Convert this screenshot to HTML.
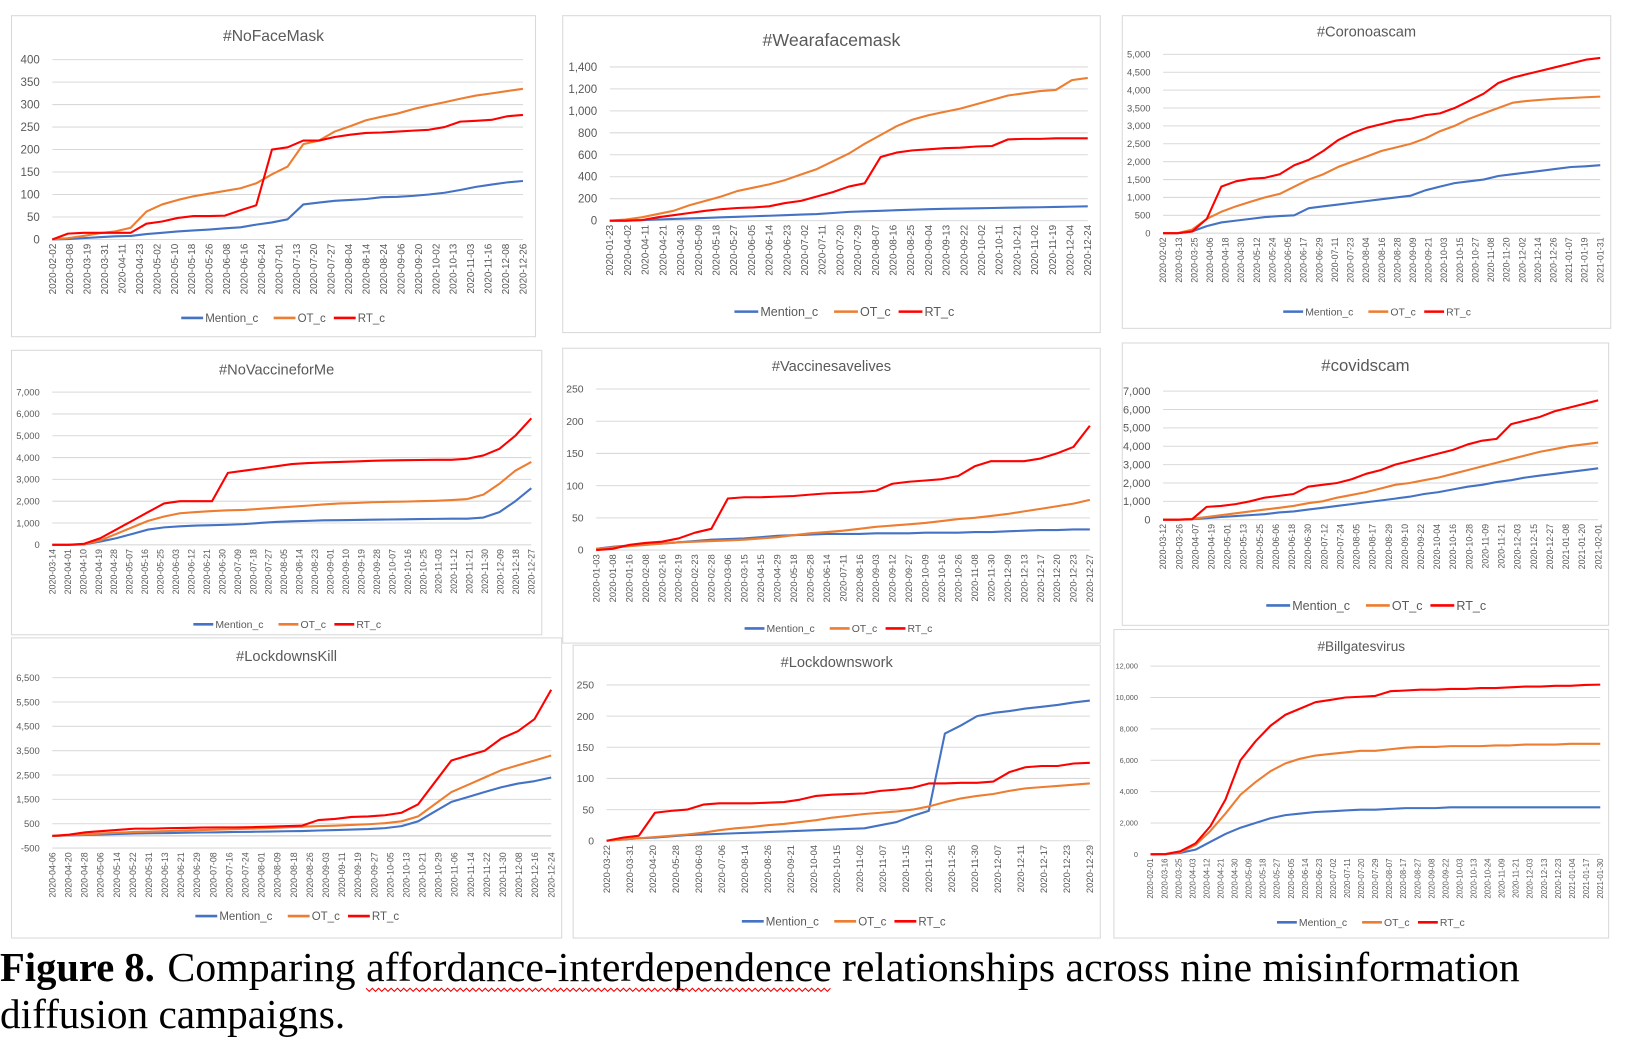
<!DOCTYPE html>
<html><head><meta charset="utf-8"><style>
html,body{margin:0;padding:0;background:#fff;width:1640px;height:1052px;overflow:hidden}
svg{display:block}
</style></head><body>
<svg id="fig" width="1640" height="1052" viewBox="0 0 1568 1006" preserveAspectRatio="none" xmlns="http://www.w3.org/2000/svg" font-family="'Liberation Sans', sans-serif">
<g id="charts"></g>
<g font-family="'Liberation Serif', serif" fill="#000">
<text y="938" font-size="39"><tspan x="0" font-weight="bold" textLength="148" lengthAdjust="spacingAndGlyphs">Figure 8.</tspan><tspan x="160" textLength="180" lengthAdjust="spacingAndGlyphs">Comparing</tspan><tspan x="350" textLength="445" lengthAdjust="spacingAndGlyphs">affordance-interdependence</tspan><tspan x="805" textLength="648" lengthAdjust="spacingAndGlyphs">relationships across nine misinformation</tspan></text>
<text x="0" y="983" font-size="39" textLength="330" lengthAdjust="spacingAndGlyphs">diffusion campaigns.</text>
<path id="squig" d="" fill="none" stroke="#e00" stroke-width="1"/>
</g>
</svg>
<script>
// ---- data arrays ----
const p1Titles = ["#NoFaceMask","#Wearafacemask","#Coronoascam","#NoVaccineforMe","#Vaccinesavelives","#covidscam","#LockdownsKill","#Lockdownswork","#Billgatesvirus"];
const seriesNames = ["Mention_c","OT_c","RT_c"];

const p1Dates = ["2020-02-02","2020-03-08","2020-03-19","2020-03-31","2020-04-11","2020-04-23","2020-05-02","2020-05-10","2020-05-18","2020-05-26","2020-06-08","2020-06-16","2020-06-24","2020-07-01","2020-07-13","2020-07-20","2020-07-27","2020-08-04","2020-08-14","2020-08-24","2020-09-06","2020-09-20","2020-10-02","2020-10-13","2020-11-03","2020-11-16","2020-12-08","2020-12-26"];
const p1Ticks = [0,50,100,150,200,250,300,350,400];
const p1Mention = [0,1,3,5,7,8,12,15,18,20,22,25,27,33,38,45,78,82,86,88,90,94,95,97,100,104,110,117,122,127,130];
const p1OT = [0,3,8,14,18,26,62,78,88,96,102,108,114,125,145,162,212,220,240,252,265,273,280,290,298,305,313,320,325,330,335];
const p1RT = [0,13,15,15,15,15,35,40,48,52,52,53,65,76,200,205,220,220,228,233,237,238,240,242,244,250,262,264,266,274,277];

const p2Dates = ["2020-01-23","2020-04-02","2020-04-11","2020-04-21","2020-04-30","2020-05-09","2020-05-18","2020-05-27","2020-06-05","2020-06-14","2020-06-23","2020-07-02","2020-07-11","2020-07-20","2020-07-29","2020-08-07","2020-08-16","2020-08-25","2020-09-04","2020-09-13","2020-09-22","2020-10-02","2020-10-11","2020-10-21","2020-11-02","2020-11-19","2020-12-04","2020-12-24"];
const p2Ticks = [0,200,400,600,800,1000,1200,1400];
const p2Mention = [0,0,5,10,15,20,25,30,35,40,45,50,55,60,70,80,85,90,95,100,105,108,110,112,115,118,120,122,125,128,130];
const p2OT = [0,10,30,60,90,140,180,220,270,300,330,370,420,470,540,610,700,780,860,920,960,990,1020,1060,1100,1140,1160,1180,1190,1280,1300];
const p2RT = [0,0,5,30,50,70,90,105,115,120,130,160,180,220,260,310,340,580,620,640,650,660,665,675,680,740,745,745,750,750,750];

const p3Dates = ["2020-02-02","2020-03-13","2020-03-25","2020-04-06","2020-04-18","2020-04-30","2020-05-12","2020-05-24","2020-06-05","2020-06-17","2020-06-29","2020-07-11","2020-07-23","2020-08-04","2020-08-16","2020-08-28","2020-09-09","2020-09-21","2020-10-03","2020-10-15","2020-10-27","2020-11-08","2020-11-20","2020-12-02","2020-12-14","2020-12-26","2021-01-07","2021-01-19","2021-01-31"];
const p3Ticks = [0,500,1000,1500,2000,2500,3000,3500,4000,4500,5000];
const p3Mention = [0,0,50,200,300,350,400,450,480,500,700,750,800,850,900,950,1000,1050,1200,1300,1400,1450,1500,1600,1650,1700,1750,1800,1850,1870,1900];
const p3OT = [0,0,100,400,600,750,880,1000,1100,1300,1500,1650,1850,2000,2150,2300,2400,2500,2650,2850,3000,3200,3350,3500,3650,3700,3730,3760,3780,3800,3820];
const p3RT = [0,0,50,400,1300,1450,1520,1550,1650,1900,2050,2300,2600,2800,2950,3050,3150,3200,3300,3350,3500,3700,3900,4200,4350,4450,4550,4650,4750,4850,4900];

const p4Dates = ["2020-03-14","2020-04-01","2020-04-10","2020-04-19","2020-04-28","2020-05-07","2020-05-16","2020-05-25","2020-06-03","2020-06-12","2020-06-21","2020-06-30","2020-07-09","2020-07-18","2020-07-27","2020-08-05","2020-08-14","2020-08-23","2020-09-01","2020-09-10","2020-09-19","2020-09-28","2020-10-07","2020-10-16","2020-10-25","2020-11-03","2020-11-12","2020-11-21","2020-11-30","2020-12-09","2020-12-18","2020-12-27"];
const p4Ticks = [0,1000,2000,3000,4000,5000,6000,7000];
const p4Mention = [0,0,20,150,300,500,700,800,850,880,900,920,950,1000,1050,1080,1100,1120,1130,1140,1150,1160,1170,1180,1190,1200,1200,1250,1500,2000,2600];
const p4OT = [0,0,30,200,500,800,1100,1300,1450,1500,1550,1580,1600,1650,1700,1750,1800,1850,1900,1920,1950,1970,1980,2000,2020,2050,2100,2300,2800,3400,3800];
const p4RT = [0,0,50,300,700,1100,1500,1900,2000,2000,2000,3300,3400,3500,3600,3700,3750,3780,3800,3820,3850,3870,3880,3890,3900,3900,3950,4100,4400,5000,5800];

const p5Dates = ["2020-01-03","2020-01-08","2020-01-16","2020-02-08","2020-02-16","2020-02-19","2020-02-23","2020-02-28","2020-03-06","2020-03-15","2020-04-15","2020-04-29","2020-05-18","2020-05-28","2020-06-14","2020-07-11","2020-08-16","2020-09-03","2020-09-12","2020-09-27","2020-10-09","2020-10-16","2020-10-26","2020-11-08","2020-11-30","2020-12-09","2020-12-13","2020-12-17","2020-12-20","2020-12-23","2020-12-27"];
const p5Ticks = [0,50,100,150,200,250];
const p5Mention = [2,5,7,9,10,12,14,16,17,18,20,22,23,24,25,25,25,26,26,26,27,27,27,28,28,29,30,31,31,32,32];
const p5OT = [2,4,6,8,10,12,13,14,15,16,18,20,23,26,28,30,33,36,38,40,42,45,48,50,53,56,60,64,68,72,78];
const p5RT = [0,2,8,11,13,18,27,33,80,82,82,83,84,86,88,89,90,92,103,106,108,110,115,130,138,138,138,142,150,160,193];

const p6Dates = ["2020-03-12","2020-03-26","2020-04-07","2020-04-19","2020-05-01","2020-05-13","2020-05-25","2020-06-06","2020-06-18","2020-06-30","2020-07-12","2020-07-24","2020-08-05","2020-08-17","2020-08-29","2020-09-10","2020-09-22","2020-10-04","2020-10-16","2020-10-28","2020-11-09","2020-11-21","2020-12-03","2020-12-15","2020-12-27","2021-01-08","2021-01-20","2021-02-01"];
const p6Ticks = [0,1000,2000,3000,4000,5000,6000,7000];
const p6Mention = [0,0,30,80,150,200,250,300,400,450,550,650,750,850,950,1050,1150,1250,1400,1500,1650,1800,1900,2050,2150,2300,2400,2500,2600,2700,2800];
const p6OT = [0,0,50,150,250,350,450,550,650,750,900,1000,1200,1350,1500,1700,1900,2000,2150,2300,2500,2700,2900,3100,3300,3500,3700,3850,4000,4100,4200];
const p6RT = [0,0,20,700,750,850,1000,1200,1300,1400,1800,1900,2000,2200,2500,2700,3000,3200,3400,3600,3800,4100,4300,4400,5200,5400,5600,5900,6100,6300,6500];

const p7Dates = ["2020-04-06","2020-04-20","2020-04-28","2020-05-06","2020-05-14","2020-05-22","2020-05-31","2020-06-13","2020-06-21","2020-06-29","2020-07-08","2020-07-16","2020-07-24","2020-08-01","2020-08-09","2020-08-18","2020-08-26","2020-09-03","2020-09-11","2020-09-19","2020-09-27","2020-10-05","2020-10-13","2020-10-21","2020-10-29","2020-11-06","2020-11-14","2020-11-22","2020-11-30","2020-12-08","2020-12-16","2020-12-24"];
const p7Ticks = [-500,500,1500,2500,3500,4500,5500,6500];
const p7Mention = [0,20,40,60,80,100,110,120,130,140,150,160,170,180,190,200,220,240,260,280,320,400,600,1000,1400,1600,1800,2000,2150,2250,2400];
const p7OT = [0,30,60,100,130,160,180,200,220,240,260,280,300,320,350,380,400,420,450,480,520,600,800,1300,1800,2100,2400,2700,2900,3100,3300];
const p7RT = [0,50,150,200,250,300,300,320,330,340,350,350,360,380,400,420,650,700,780,800,850,950,1300,2200,3100,3300,3500,4000,4300,4800,6000];

const p8Dates = ["2020-03-22","2020-03-31","2020-04-20","2020-05-28","2020-06-03","2020-07-06","2020-08-14","2020-08-26","2020-09-21","2020-10-04","2020-10-15","2020-11-02","2020-11-07","2020-11-15","2020-11-20","2020-11-25","2020-11-30","2020-12-07","2020-12-11","2020-12-17","2020-12-23","2020-12-29"];
const p8Ticks = [0,50,100,150,200,250];
const p8Mention = [0,2,4,5,7,9,10,11,12,13,14,15,16,17,18,19,20,25,30,40,48,172,185,200,205,208,212,215,218,222,225];
const p8OT = [0,2,4,6,8,10,13,17,20,22,25,27,30,33,37,40,43,45,47,50,55,62,68,72,75,80,84,86,88,90,92];
const p8RT = [0,5,8,45,48,50,58,60,60,60,61,62,66,72,74,75,76,80,82,85,92,92,93,93,95,110,118,120,120,124,125];

const p9Dates = ["2020-02-01","2020-03-16","2020-03-25","2020-04-03","2020-04-12","2020-04-21","2020-04-30","2020-05-09","2020-05-18","2020-05-27","2020-06-05","2020-06-14","2020-06-23","2020-07-02","2020-07-11","2020-07-20","2020-07-29","2020-08-07","2020-08-17","2020-08-27","2020-09-08","2020-09-22","2020-10-03","2020-10-13","2020-10-24","2020-11-09","2020-11-21","2020-12-03","2020-12-13","2020-12-23","2021-01-04","2021-01-17","2021-01-30"];
const p9Ticks = [0,2000,4000,6000,8000,10000,12000];
const p9Mention = [0,5,100,300,800,1300,1700,2000,2300,2500,2600,2700,2750,2800,2850,2850,2900,2950,2950,2950,3000,3000,3000,3000,3000,3000,3000,3000,3000,3000,3000];
const p9OT = [0,10,150,600,1500,2600,3800,4600,5300,5800,6100,6300,6400,6500,6600,6600,6700,6800,6850,6850,6900,6900,6900,6950,6950,7000,7000,7000,7050,7050,7050];
const p9RT = [0,20,200,700,1800,3500,6000,7200,8200,8900,9300,9700,9850,10000,10050,10100,10400,10450,10500,10500,10550,10550,10600,10600,10650,10700,10700,10750,10750,10800,10820];

// ---- layout (not data) ----
const layouts = [
 {box:[11,15,501,307],pl:50,pr:500,pt:57,pb:229,title:34,tfs:15,yfs:11,xfs:9.5,leg:304,lfs:11},
 {box:[538,15,514,303],pl:583,pr:1040,pt:64,pb:211,title:38,tfs:17,yfs:11,xfs:9.5,leg:298,lfs:12},
 {box:[1073,15,467,299],pl:1112,pr:1530,pt:52,pb:223,title:30,tfs:14,yfs:9,xfs:8.5,leg:298,lfs:10},
 {box:[11,335,507,272],pl:50,pr:508,pt:375,pb:521,title:353,tfs:14,yfs:9,xfs:8.5,leg:597,lfs:10},
 {box:[538,333,514,282],pl:570,pr:1042,pt:372,pb:526,title:350,tfs:14,yfs:10,xfs:9,leg:601,lfs:10},
 {box:[1073,328,465,270],pl:1112,pr:1528,pt:374,pb:497,title:349,tfs:16,yfs:10.5,xfs:8.5,leg:579,lfs:12},
 {box:[11,610,526,287],pl:50,pr:527,pt:648,pb:811,title:627,tfs:14,yfs:9,xfs:8.5,leg:876,lfs:11},
 {box:[548,617,504,280],pl:580,pr:1042,pt:655,pb:804,title:633,tfs:14,yfs:10,xfs:9,leg:881,lfs:11},
 {box:[1065,602,473,295],pl:1100,pr:1530,pt:637,pb:817,title:618,tfs:13,yfs:7,xfs:7.5,leg:882,lfs:10}
];
const allDates=[p1Dates,p2Dates,p3Dates,p4Dates,p5Dates,p6Dates,p7Dates,p8Dates,p9Dates];
const allTicks=[p1Ticks,p2Ticks,p3Ticks,p4Ticks,p5Ticks,p6Ticks,p7Ticks,p8Ticks,p9Ticks];
const allSeries=[[p1Mention,p1OT,p1RT],[p2Mention,p2OT,p2RT],[p3Mention,p3OT,p3RT],[p4Mention,p4OT,p4RT],[p5Mention,p5OT,p5RT],[p6Mention,p6OT,p6RT],[p7Mention,p7OT,p7RT],[p8Mention,p8OT,p8RT],[p9Mention,p9OT,p9RT]];
const colors=["#4472C4","#ED7D31","#FF0000"];
const NS="http://www.w3.org/2000/svg";
const root=document.getElementById('charts');
function mk(tag,attrs,parent){const e=document.createElementNS(NS,tag);for(const k in attrs)e.setAttribute(k,attrs[k]);parent.appendChild(e);return e;}
function fmt(v){return v.toLocaleString('en-US');}

// squiggle underline 350..795
(function(){let d='M350 945';for(let x=350;x<792;x+=6){d+=' l3 3 l3 -3';}document.getElementById('squig').setAttribute('d',d);})();

for(let p=0;p<9;p++){
  const L=layouts[p],ticks=allTicks[p],dates=allDates[p],ser=allSeries[p];
  const g=mk('g',{},root);
  
  
  const bx=mk('rect',{x:L.box[0],y:L.box[1],width:L.box[2],height:L.box[3],fill:'#fff',stroke:'#d9d9d9','stroke-width':1},g);
  
  
  const ymin=ticks[0],ymax=ticks[ticks.length-1];
  const ys=v=>L.pb-(v-ymin)/(ymax-ymin)*(L.pb-L.pt);
  const xs=(i,n)=>L.pl+i/(n-1)*(L.pr-L.pl);
  const t=mk('text',{x:(L.box[0]+L.box[0]+L.box[2])/2,y:L.title+L.tfs*0.35,'text-anchor':'middle','font-size':L.tfs,fill:'#595959'},g);
  t.textContent=p1Titles[p];
  
  
  ticks.forEach(v=>{
    const gl=mk('line',{x1:L.pl,x2:L.pr,y1:ys(v),y2:ys(v),stroke:'#d9d9d9','stroke-width':1},g);
    
    
    const tl=mk('text',{x:L.pl-12,y:ys(v)+L.yfs*0.35,'text-anchor':'end','font-size':L.yfs,fill:'#595959'},g);
    tl.textContent=fmt(v);
    
    
  });
  if(ymin<0){
    const ax=mk('line',{x1:L.pl,x2:L.pr,y1:ys(0),y2:ys(0),stroke:'#bfbfbf','stroke-width':1},g);
    
    
  }
  dates.forEach((d,i)=>{
    const x=xs(i,dates.length)+L.xfs*0.35, y=L.pb+4;
    const tl=mk('text',{x:x,y:y,'text-anchor':'end','font-size':L.xfs,fill:'#595959',transform:`rotate(-90 ${x} ${y})`},g);
    tl.textContent=d;
    
    
  });
  ser.forEach((arr,s)=>{
    const pts=arr.map((v,i)=>xs(i,arr.length).toFixed(1)+','+ys(v).toFixed(1)).join(' ');
    const pl=mk('polyline',{points:pts,fill:'none',stroke:colors[s],'stroke-width':2,'stroke-linejoin':'round'},g);
    
    
  });
  const cw=L.lfs*0.56, seg=L.lfs*1.9;
  const widths=seriesNames.map(n=>seg+2+n.length*cw+10);
  const total=widths.reduce((a,b)=>a+b,0);
  let lx=(L.pl+L.pr)/2-total/2;
  seriesNames.forEach((n,s)=>{
    const lg=mk('g',{},g);
    
    
    mk('line',{x1:lx,x2:lx+seg,y1:L.leg,y2:L.leg,stroke:colors[s],'stroke-width':2.5},lg);
    const tx=mk('text',{x:lx+seg+2,y:L.leg+L.lfs*0.36,'font-size':L.lfs,fill:'#595959'},lg);
    tx.textContent=n;
    lx+=widths[s];
  });
}
</script>
</body></html>
